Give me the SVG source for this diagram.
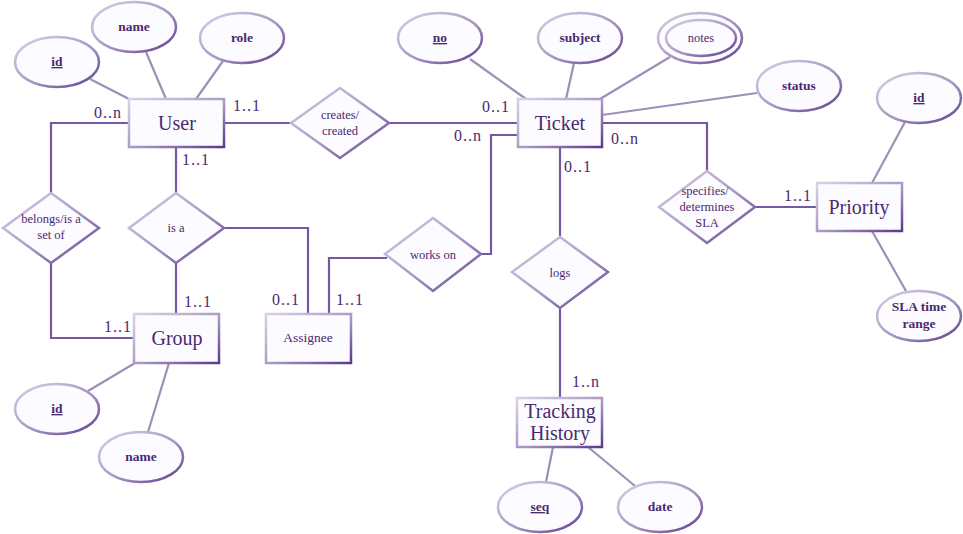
<svg xmlns="http://www.w3.org/2000/svg" width="963" height="534" viewBox="0 0 963 534">
<defs>
<linearGradient id="g" x1="0" y1="0" x2="1" y2="1">
<stop offset="0" stop-color="#d9d2e6"/>
<stop offset="0.55" stop-color="#a796c2"/>
<stop offset="1" stop-color="#5b3a8a"/>
</linearGradient>
<style>
.sh{fill:#fcfbff;stroke:url(#g);stroke-width:2.5}
.c{fill:none;stroke:#7558a4;stroke-width:2.2}
.a{fill:none;stroke:#9d8fb8;stroke-width:2.2}
text{font-family:"Liberation Serif","DejaVu Serif",serif;fill:#4a2a6e;text-anchor:middle}
.ent{font-size:20px}
.att{font-size:13.5px;font-weight:bold}
.rel{font-size:12.5px}
.lab{font-size:16px;letter-spacing:1px;text-anchor:start}
.u{text-decoration:underline}
</style>
</defs>
<rect width="963" height="534" fill="#ffffff"/>
<g id="connectors">
<line class="a" x1="90" y1="79" x2="129" y2="99"/>
<line class="a" x1="146" y1="52" x2="166" y2="99"/>
<line class="a" x1="223" y1="61" x2="196" y2="99"/>
<polyline class="c" points="224,123 291,123"/>
<polyline class="c" points="389,123 518,123"/>
<line class="a" x1="470" y1="59" x2="526" y2="99"/>
<line class="a" x1="574" y1="63" x2="566" y2="99"/>
<line class="a" x1="670" y1="57" x2="600" y2="99"/>
<line class="a" x1="757" y1="93" x2="602" y2="115"/>
<line class="a" x1="905" y1="122" x2="872" y2="183"/>
<polyline class="c" points="602,123 707,123 707,171"/>
<polyline class="c" points="755,207 817,207"/>
<line class="a" x1="872" y1="231" x2="906" y2="291"/>
<polyline class="c" points="560,147 560,237"/>
<polyline class="c" points="560,308 560,398"/>
<line class="a" x1="553" y1="447" x2="546" y2="482"/>
<line class="a" x1="588" y1="447" x2="635" y2="486"/>
<polyline class="c" points="518,135 491,135 491,254 481,254"/>
<polyline class="c" points="387,258 329,258 329,314"/>
<polyline class="c" points="176,147 176,193"/>
<polyline class="c" points="176,263 176,314"/>
<polyline class="c" points="224,228 308,228 308,314"/>
<polyline class="c" points="129,123 51,123 51,193"/>
<polyline class="c" points="51,263 51,338 134,338"/>
<line class="a" x1="88" y1="391" x2="135" y2="363"/>
<line class="a" x1="148" y1="432" x2="169" y2="363"/>
</g>
<g id="labels">
<text class="lab" x="94" y="118">0..n</text>
<text class="lab" x="233" y="111">1..1</text>
<text class="lab" x="182" y="165">1..1</text>
<text class="lab" x="482" y="112">0..1</text>
<text class="lab" x="454" y="141">0..n</text>
<text class="lab" x="611" y="144">0..n</text>
<text class="lab" x="564" y="172">0..1</text>
<text class="lab" x="784" y="201">1..1</text>
<text class="lab" x="572" y="387">1..n</text>
<text class="lab" x="336" y="305">1..1</text>
<text class="lab" x="272" y="305">0..1</text>
<text class="lab" x="184" y="307">1..1</text>
<text class="lab" x="104" y="332">1..1</text>
</g>
<g id="User"><rect class="sh" x="129" y="99" width="95" height="48"/><text class="ent" x="177" y="130">User</text></g>
<g id="User_id"><ellipse class="sh" cx="57" cy="62" rx="42" ry="25"/><text class="att u" x="57" y="66">id</text></g>
<g id="User_name"><ellipse class="sh" cx="134" cy="27" rx="42" ry="25"/><text class="att" x="134" y="31">name</text></g>
<g id="User_role"><ellipse class="sh" cx="242" cy="38" rx="42" ry="25"/><text class="att" x="242" y="42">role</text></g>
<g id="creates"><polygon class="sh" points="340,88 389,123 340,158 291,123"/><text class="rel" x="340" y="119">creates/</text><text class="rel" x="340" y="135">created</text></g>
<g id="Ticket"><rect class="sh" x="518" y="99" width="84" height="48"/><text class="ent" x="560" y="130">Ticket</text></g>
<g id="Ticket_no"><ellipse class="sh" cx="440" cy="38" rx="42" ry="25"/><text class="att u" x="440" y="42">no</text></g>
<g id="Ticket_subject"><ellipse class="sh" cx="580" cy="38" rx="42" ry="25"/><text class="att" x="580" y="42">subject</text></g>
<g id="Ticket_notes"><ellipse class="sh" cx="700" cy="38" rx="42" ry="25"/><ellipse class="sh" cx="701" cy="38" rx="35" ry="18"/><text class="rel" x="701" y="42">notes</text></g>
<g id="Ticket_status"><ellipse class="sh" cx="799" cy="86" rx="42" ry="25"/><text class="att" x="799" y="90">status</text></g>
<g id="specifies"><polygon class="sh" points="707,171 755,207 707,243 659,207"/><text class="rel" x="705" y="195">specifies/</text><text class="rel" x="707" y="211">determines</text><text class="rel" x="707" y="227">SLA</text></g>
<g id="Priority"><rect class="sh" x="817" y="183" width="85" height="48"/><text class="ent" x="859" y="214">Priority</text></g>
<g id="Priority_id"><ellipse class="sh" cx="919" cy="98" rx="42" ry="25"/><text class="att u" x="919" y="102">id</text></g>
<g id="Priority_sla"><ellipse class="sh" cx="919" cy="316" rx="42" ry="25"/><text class="att" x="919" y="311">SLA time</text><text class="att" x="919" y="328">range</text></g>
<g id="logs"><polygon class="sh" points="560,237 608,272 560,308 512,272"/><text class="rel" x="560" y="277">logs</text></g>
<g id="TrackingHistory"><rect class="sh" x="517" y="398" width="85" height="49"/><text class="ent" x="560" y="418">Tracking</text><text class="ent" x="560" y="440">History</text></g>
<g id="TH_seq"><ellipse class="sh" cx="540" cy="507" rx="42" ry="25"/><text class="att u" x="540" y="511">seq</text></g>
<g id="TH_date"><ellipse class="sh" cx="660" cy="507" rx="42" ry="25"/><text class="att" x="660" y="511">date</text></g>
<g id="worksOn"><polygon class="sh" points="433,218 481,254 433,291 385,254"/><text class="rel" x="433" y="259">works on</text></g>
<g id="Assignee"><rect class="sh" x="266" y="314" width="85" height="49"/><text class="rel" x="308" y="342" style="font-size:13.5px">Assignee</text></g>
<g id="isA"><polygon class="sh" points="176,193 224,228 176,263 129,228"/><text class="rel" x="176" y="232">is a</text></g>
<g id="belongs"><polygon class="sh" points="51,193 99,228 51,263 3,228"/><text class="rel" x="51" y="223">belongs/is a</text><text class="rel" x="51" y="239">set of</text></g>
<g id="Group"><rect class="sh" x="134" y="314" width="85" height="49"/><text class="ent" x="177" y="345">Group</text></g>
<g id="Group_id"><ellipse class="sh" cx="57" cy="409" rx="42" ry="25"/><text class="att u" x="57" y="413">id</text></g>
<g id="Group_name"><ellipse class="sh" cx="141" cy="457" rx="42" ry="25"/><text class="att" x="141" y="461">name</text></g>
</svg>
